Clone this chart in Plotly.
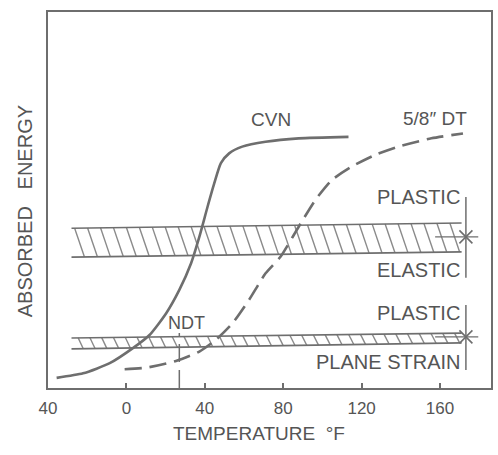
import numpy as np
import plotly.graph_objects as go

# ---------------- data ----------------
cvn_temp = [-35.6, -22.1, -8.5, 3.3, 11.8, 20.3, 27.0, 33.0, 37.2, 41.4, 44.8, 48.2, 52.4, 59.1, 71.0, 87.9, 113.3]
cvn_energy = [2.7, 3.9, 6.6, 10.6, 14.1, 19.9, 26.1, 33.2, 40.2, 48.2, 54.4, 59.8, 62.4, 64.2, 65.5, 66.4, 66.8]

dt_temp = [-0.9, 10.1, 25.3, 37.2, 45.6, 54.1, 62.5, 71.0, 78.6, 87.9, 96.4, 104.8, 115.0, 126.9, 138.7, 155.6, 171.7]
dt_energy = [5.0, 5.4, 7.2, 9.7, 12.8, 17.2, 23.4, 30.5, 34.9, 42.9, 50.0, 55.3, 58.9, 62.0, 64.2, 66.4, 67.7]

# transition bands: [left temp, right temp], top edge [left, right], bottom edge [left, right]
band_temp = [-28.0, 171.0]
upper_top = [42.5, 43.9]
upper_bottom = [34.8, 36.2]
lower_top = [13.3, 14.6]
lower_bottom = [10.4, 12.0]

ndt_temp = 27.0
ndt_energy = [0.0, 14.6]

marker_temp = 173.2
upper_marker = [29.3, 40.2, 50.8]   # bottom, cross, top
lower_marker = [4.8, 13.6, 22.1]

tick_vals = [-40, 0, 40, 80, 120, 160]
tick_text = ["40", "0", "40", "80", "120", "160"]

# ---------------- styling ----------------
LINE = "#6e6e6e"
TEXT = "#555555"
FONT = "Liberation Sans, Arial, sans-serif"


def edge(vals, x):
    return vals[0] + (vals[1] - vals[0]) * (x - band_temp[0]) / (band_temp[1] - band_temp[0])


def hatch(top, bottom, step, slant):
    xs, ys = [], []
    x0, x1 = band_temp
    for a in np.arange(x0 - slant, x1, step):
        t0, t1 = 0.0, 1.0
        if a < x0:
            t0 = (x0 - a) / slant
        if a + slant > x1:
            t1 = (x1 - a) / slant
        if t1 <= t0:
            continue
        pts = []
        for t in (t0, t1):
            x = a + slant * t
            yt, yb = edge(top, x), edge(bottom, x)
            pts.append((x, yt + (yb - yt) * t))
        xs += [pts[0][0], pts[1][0], None]
        ys += [pts[0][1], pts[1][1], None]
    return xs, ys


fig = go.Figure()

# bands
for top, bottom, step, slant in [(upper_top, upper_bottom, 6.6, 5.0), (lower_top, lower_bottom, 6.0, 2.6)]:
    hx, hy = hatch(top, bottom, step, slant)
    fig.add_trace(go.Scatter(x=hx, y=hy, mode="lines", line=dict(color="#8a8a8a", width=1.4),
                             hoverinfo="skip", showlegend=False))
    for e in (top, bottom):
        fig.add_trace(go.Scatter(x=band_temp, y=e, mode="lines", line=dict(color=LINE, width=1.6),
                                 hoverinfo="skip", showlegend=False))

# NDT line
fig.add_trace(go.Scatter(x=[ndt_temp, ndt_temp], y=ndt_energy, mode="lines",
                         line=dict(color=LINE, width=1.5, dash="18px,8px"), showlegend=False))

# right-hand markers
for m in (upper_marker, lower_marker):
    fig.add_trace(go.Scatter(x=[marker_temp, marker_temp], y=[m[0], m[2]], mode="lines",
                             line=dict(color=LINE, width=1.5), showlegend=False))
    fig.add_trace(go.Scatter(x=[157.5, 179.5], y=[m[1], m[1]], mode="lines",
                             line=dict(color=LINE, width=1.2), showlegend=False))
    fig.add_trace(go.Scatter(x=[marker_temp], y=[m[1]], mode="markers",
                             marker=dict(symbol="x-thin", size=13, line=dict(color=LINE, width=1.6)),
                             showlegend=False))

# curves
fig.add_trace(go.Scatter(x=cvn_temp, y=cvn_energy, mode="lines", name="CVN",
                         line=dict(color=LINE, width=2.6, shape="spline", smoothing=0.6), showlegend=False))
fig.add_trace(go.Scatter(x=dt_temp, y=dt_energy, mode="lines", name="5/8 DT",
                         line=dict(color=LINE, width=2.6, shape="spline", smoothing=0.6, dash="17px,8px"),
                         showlegend=False))

labels = [
    ("CVN", 73.7, 71.3, "center", 19),
    ("5/8″ DT", 157.5, 71.8, "center", 19),
    ("NDT", 30.8, 17.3, "center", 18),
    ("PLASTIC", 171.0, 50.8, "right", 20),
    ("ELASTIC", 171.0, 31.4, "right", 20),
    ("PLASTIC", 171.0, 19.9, "right", 20),
    ("PLANE STRAIN", 171.0, 6.9, "right", 20),
]
for txt, x, y, anc, size in labels:
    fig.add_annotation(x=x, y=y, text=txt, showarrow=False, xanchor=anc, yanchor="middle",
                       font=dict(family=FONT, size=size, color=TEXT))

fig.add_annotation(xref="paper", yref="paper", x=-0.052, y=0.47, text="ABSORBED   ENERGY",
                   textangle=-90, showarrow=False, xanchor="center", yanchor="middle",
                   font=dict(family=FONT, size=20, color=TEXT))
fig.add_annotation(xref="paper", yref="paper", x=0.476, y=-0.088, text="TEMPERATURE  °F",
                   showarrow=False, xanchor="center", yanchor="top",
                   font=dict(family=FONT, size=19, color=TEXT))

fig.update_layout(
    width=498, height=455, autosize=False,
    margin=dict(l=48, r=5, t=12, b=67),
    paper_bgcolor="white", plot_bgcolor="white",
    xaxis=dict(range=[-40, 186], tickvals=tick_vals, ticktext=tick_text, ticks="inside", ticklen=5,
               tickwidth=1.5, tickcolor=LINE, showgrid=False, zeroline=False, showline=True,
               linecolor=LINE, linewidth=2, mirror=True, ticklabelstandoff=4,
               tickfont=dict(family=FONT, size=17, color=TEXT)),
    yaxis=dict(range=[0, 100], showticklabels=False, ticks="", showgrid=False, zeroline=False,
               showline=True, linecolor=LINE, linewidth=2, mirror=True),
)

fig.write_html("out.html", config={"displayModeBar": False},
               post_script="document.body.style.margin='0';")
